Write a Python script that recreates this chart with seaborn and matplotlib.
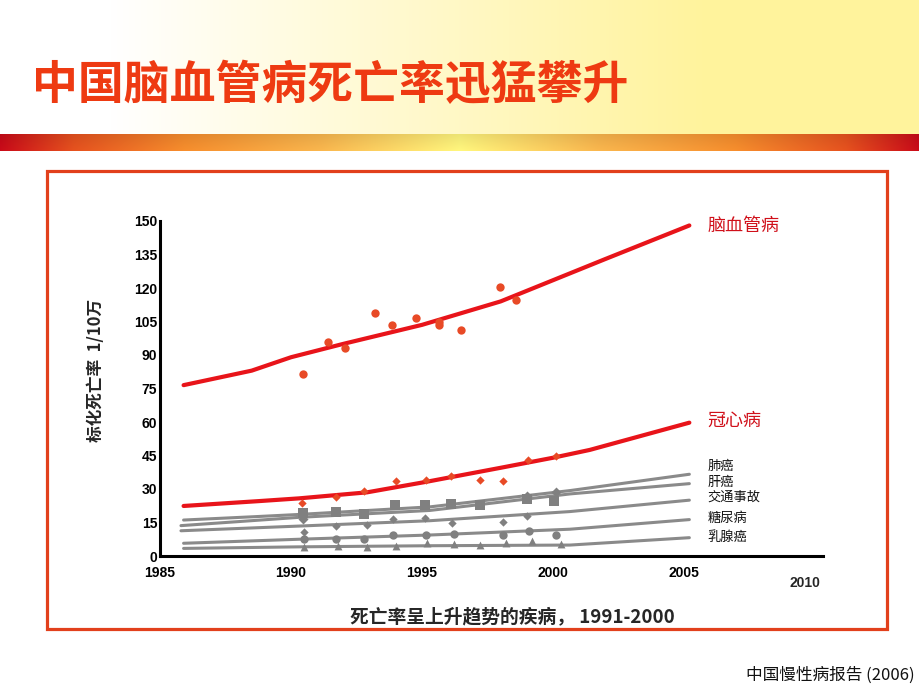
import numpy as np
import matplotlib
matplotlib.use('Agg')
import matplotlib.pyplot as plt
import seaborn as sns
from matplotlib.patches import Rectangle
from matplotlib.colors import to_rgb

# --- data (rate per 100k) ---
brain_line_x = [1985.9, 1988.5, 1990.0, 1992.0, 1995.0, 1998.0, 2000.0, 2002.0, 2005.2]
brain_line_y = [76.5, 83.0, 89.0, 95.0, 103.5, 114.0, 123.5, 133.0, 148.0]
brain_pts_x = [1990.46, 1991.4, 1992.06, 1993.2, 1993.84, 1994.77, 1995.65, 1995.65, 1996.5, 1997.98, 1998.6]
brain_pts_y = [81.5, 95.7, 93.3, 108.7, 103.4, 106.7, 105.0, 103.6, 101.2, 120.3, 114.5]

heart_line_x = [1985.9, 1988.8, 1990.3, 1992.9, 1995.2, 1998.0, 2000.0, 2001.4, 2005.2]
heart_line_y = [22.4, 24.6, 25.8, 28.5, 33.3, 39.5, 44.0, 47.5, 59.7]
heart_pts_x = [1990.4, 1991.7, 1992.8, 1994.0, 1995.15, 1996.1, 1997.2, 1998.1, 1999.05, 2000.1]
heart_pts_y = [23.6, 26.3, 29.3, 33.7, 34.0, 35.8, 34.0, 33.7, 43.0, 45.0]

lung_x = [1985.9, 1988.6, 1990.3, 1995.3, 2000.65, 2005.2]
lung_y = [16.1, 17.6, 18.6, 22.0, 29.3, 36.6]
liver_x = [1985.8, 1990.3, 1995.3, 2000.65, 2005.2]
liver_y = [13.6, 17.3, 20.4, 27.8, 32.4]
traffic_x = [1985.8, 1990.3, 1995.3, 2000.65, 2005.2]
traffic_y = [11.3, 13.4, 15.8, 19.9, 25.0]
diabetes_x = [1985.9, 1990.3, 1995.3, 2000.65, 2005.2]
diabetes_y = [5.7, 7.5, 9.4, 12.0, 16.3]
breast_x = [1985.9, 1990.3, 1995.3, 2000.65, 2005.2]
breast_y = [3.4, 4.1, 4.6, 4.9, 8.2]

square_x = [1990.45, 1991.7, 1992.8, 1993.97, 1995.1, 1996.1, 1997.2, 1999.0, 2000.05]
square_y = [19.4, 19.9, 19.0, 22.8, 22.8, 23.1, 23.0, 25.5, 24.8]
bigdiam_x = [1990.45, 1999.0, 2000.1]
bigdiam_y = [16.5, 27.0, 28.6]
diam_x = [1990.5, 1991.7, 1992.9, 1993.9, 1995.1, 1996.15, 1998.1, 1999.0]
diam_y = [10.9, 13.6, 13.9, 16.6, 17.2, 14.9, 15.1, 18.0]
circle_x = [1990.5, 1991.7, 1992.8, 1993.9, 1995.15, 1996.2, 1998.1, 1999.1, 2000.1]
circle_y = [7.5, 7.5, 7.6, 9.3, 9.6, 9.7, 9.4, 11.2, 9.6]
tri_x = [1990.5, 1991.8, 1992.9, 1994.0, 1995.2, 1996.2, 1997.2, 1998.2, 1999.2, 2000.3]
tri_y = [4.2, 4.5, 3.9, 4.4, 5.6, 5.2, 4.8, 5.6, 6.5, 5.4]

gray_labels = ['肺癌', '肝癌', '交通事故', '糖尿病', '乳腺癌']
gray_label_y = [40.3, 33.0, 26.2, 17.0, 8.5]

xticks = [1985, 1990, 1995, 2000, 2005]
yticks = list(range(0, 151, 15))

sns.set_theme(style='white')
plt.rcParams['font.family'] = ['Noto Sans CJK SC', 'DejaVu Sans']

W, H = 920, 690
fig = plt.figure(figsize=(W / 100, H / 100), dpi=100)

# --- slide background: yellow header and gradient band ---
img = np.ones((H, W, 3))
xs = np.linspace(0, 1, W)
t = np.clip((xs - 0.12) / 0.65, 0, 1)
yellow = np.array(to_rgb('#fff39c'))
img[:134] = 1 - t[:, None] * (1 - yellow)
stops = [0, 0.08, 0.2, 0.35, 0.5, 0.65, 0.8, 0.92, 1.0]
cols = np.array([to_rgb(c) for c in ['#c40a18', '#e0501e', '#f08a2c', '#f3b24c', '#f9f07a',
                                     '#f3b24c', '#f08a2c', '#e0501e', '#c40a18']])
band = np.stack([np.interp(xs, stops, cols[:, k]) for k in range(3)], axis=1)
for r in range(134, 151):
    f = 0.95 + 0.08 * (r - 134) / 16
    img[r] = np.clip(band * f, 0, 1)
bg = fig.add_axes([0, 0, 1, 1], zorder=-10)
bg.imshow(img, aspect='auto', extent=[0, 1, 0, 1])
bg.axis('off')

fig.patches.append(Rectangle((47 / W, 1 - 629 / H), 840 / W, 458 / H, transform=fig.transFigure,
                             fill=False, edgecolor='#e2401c', linewidth=2.3))

fig.text(32 / W, 1 - 86 / H, '中国脑血管病死亡率迅猛攀升', fontsize=33, fontweight='bold',
         color='#ee3a12', va='center', ha='left')
fig.text(915 / W, 1 - 675 / H, '中国慢性病报告 (2006)', fontsize=12, color='#111111',
         va='center', ha='right')

# --- chart ---
ax = fig.add_axes([160 / W, 134 / H, 663 / W, 335 / H])
ax.set_facecolor('none')

red = '#e8141a'
gray = '#8a8a8a'
for lx, ly in [(lung_x, lung_y), (liver_x, liver_y), (traffic_x, traffic_y),
               (diabetes_x, diabetes_y), (breast_x, breast_y)]:
    sns.lineplot(x=lx, y=ly, sort=False, estimator=None, color=gray, linewidth=2.2, ax=ax)
sns.lineplot(x=heart_line_x, y=heart_line_y, sort=False, estimator=None, color=red, linewidth=3, ax=ax)
sns.lineplot(x=brain_line_x, y=brain_line_y, sort=False, estimator=None, color=red, linewidth=3, ax=ax)

pt_red = '#e84a26'
sns.scatterplot(x=brain_pts_x, y=brain_pts_y, color=pt_red, marker='o', s=36, linewidth=0, ax=ax, zorder=5)
sns.scatterplot(x=heart_pts_x, y=heart_pts_y, color=pt_red, marker='D', s=18, linewidth=0, ax=ax, zorder=5)
pt_gray = '#808080'
sns.scatterplot(x=square_x, y=square_y, color=pt_gray, marker='s', s=42, linewidth=0, ax=ax, zorder=5)
sns.scatterplot(x=bigdiam_x, y=bigdiam_y, color=pt_gray, marker='D', s=26, linewidth=0, ax=ax, zorder=5)
sns.scatterplot(x=diam_x, y=diam_y, color=pt_gray, marker='D', s=18, linewidth=0, ax=ax, zorder=5)
sns.scatterplot(x=circle_x, y=circle_y, color=pt_gray, marker='o', s=36, linewidth=0, ax=ax, zorder=5)
sns.scatterplot(x=tri_x, y=tri_y, color=pt_gray, marker='^', s=32, linewidth=0, ax=ax, zorder=5)

ax.set_xlim(1985, 2010.3)
ax.set_ylim(0, 150)
ax.set_xticks(xticks)
ax.set_yticks(yticks)
for s in ['top', 'right']:
    ax.spines[s].set_visible(False)
for s in ['left', 'bottom']:
    ax.spines[s].set_color('black')
    ax.spines[s].set_linewidth(2.2)
ax.tick_params(axis='x', direction='in', length=7, width=1.3, pad=7, colors='black')
ax.tick_params(axis='y', direction='in', length=4.5, width=1.3, pad=2, colors='black')
for lab in ax.get_xticklabels() + ax.get_yticklabels():
    lab.set_fontfamily('Liberation Sans')
    lab.set_fontweight('bold')
    lab.set_fontsize(10)
ax.text(2009.6, -0.08, '2010', transform=ax.get_xaxis_transform(), ha='center', va='center',
        fontfamily='Liberation Sans', fontweight='bold', fontsize=10)

ax.text(2005.9, 147.8, '脑血管病', color='#d0101a', fontsize=13, va='center', ha='left')
ax.text(2005.9, 60.5, '冠心病', color='#d0101a', fontsize=13, va='center', ha='left')
for lab, yy in zip(gray_labels, gray_label_y):
    ax.text(2005.9, yy, lab, color='#111111', fontsize=9.5, va='center', ha='left')

ax.set_ylabel('标化死亡率  1/10万', fontsize=12, fontweight='bold',
              family=['Noto Sans CJK SC', 'DejaVu Sans'])
ax.yaxis.set_label_coords(-0.083, 0.555)
ax.set_xlabel('死亡率呈上升趋势的疾病， 1991-2000', fontsize=13.5, fontweight='bold',
              family=['Noto Sans CJK SC', 'DejaVu Sans'])
ax.xaxis.set_label_coords(0.531, -0.152)

fig.savefig('out.png', dpi=100)
